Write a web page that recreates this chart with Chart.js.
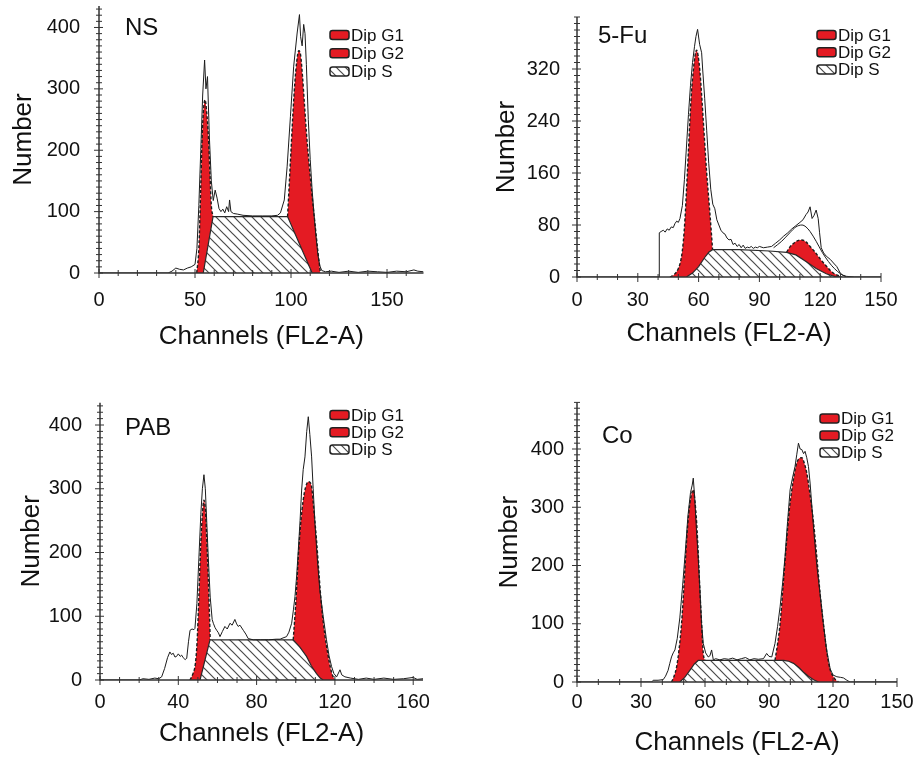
<!DOCTYPE html>
<html>
<head>
<meta charset="utf-8">
<script src="https://cdn.jsdelivr.net/npm/chart.js@4.4.0/dist/chart.umd.min.js"></script>
<style>
  html, body { margin: 0; padding: 0; background: #fff; }
  body { width: 913px; height: 758px; position: relative; overflow: hidden; }
  .panel { position: absolute; }
</style>
</head>
<body>
<div class="panel" style="left:8px;top:0px"><canvas id="ns" width="432" height="352"></canvas></div>
<div class="panel" style="left:491px;top:0px"><canvas id="fu" width="422" height="349"></canvas></div>
<div class="panel" style="left:16px;top:390px"><canvas id="pab" width="424" height="359"></canvas></div>
<div class="panel" style="left:494px;top:390px"><canvas id="co" width="419" height="368"></canvas></div>
<script>
const FONT = "'Liberation Sans', Arial, sans-serif";
const RED = '#e41b23';
const INK = '#1c1c1c';

const legendLabels = ['Dip G1', 'Dip G2', 'Dip S'];
const xTitle = 'Channels (FL2-A)';
const yTitle = 'Number';

// tick labels
const nsXTicks = [0, 50, 100, 150];
const nsYTicks = [0, 100, 200, 300, 400];
const fuXTicks = [0, 30, 60, 90, 120, 150];
const fuYTicks = [0, 80, 160, 240, 320];
const pabXTicks = [0, 40, 80, 120, 160];
const pabYTicks = [0, 100, 200, 300, 400];
const coXTicks = [0, 30, 60, 90, 120, 150];
const coYTicks = [0, 100, 200, 300, 400];

// NS
const nsRaw = [[0,0],[36,0],[38,3],[40,8],[42,6],[44,5],[46,8],[48,10],[50,14],[51,40],[52,110],[53,200],[54,290],[55,347],[55.7,300],[56.5,320],[57.5,220],[58.5,150],[59.5,118],[60.5,135],[61.5,122],[62.5,105],[63.5,100],[64.5,104],[65.5,98],[66.5,108],[67.5,100],[68,119],[68.7,100],[70,97],[72,96],[75,94],[80,93],[85,93],[90,93],[93,94],[94.5,98],[96.5,119],[98,174],[99.7,255],[101.4,337],[103.2,391],[104.4,421],[105,385],[105.8,370],[106.6,405],[107.3,390],[108,340],[109,250],[110,185],[111,135],[112,95],[113,60],[114,30],[115,12],[116,4],[118,2],[121,3],[125,1],[130,3],[135,1],[140,3],[145,2],[150,1],[155,3],[160,2],[164,5],[166,3],[169,2]];
const nsS = [[54.3,0],[59.4,92],[98.2,92],[111,0]];
const nsG1 = [[50.9,0],[52,40],[53,140],[53.5,200],[54.3,260],[55.2,282],[56,265],[57,220],[57.8,160],[58.5,110],[59.4,92]];
const nsG2 = [[98.2,92],[99,140],[100,200],[101,260],[102,310],[103,345],[104,362],[105,355],[106,320],[107,275],[108,230],[109.5,175],[111,125],[112.5,80],[114,35],[115.3,0]];

// 5-Fu
const fuRaw = [[0,0],[40.5,0],[40.6,68],[41.5,70],[42.6,72],[43.5,69],[44.5,74],[45.5,72],[46.5,77],[47.5,76],[48.3,82],[49.2,86],[50,84],[50.8,90],[52,110],[53,150],[54,200],[55,250],[56,295],[57,330],[58,355],[58.7,370],[59.5,381],[60.5,358],[61.5,345],[62,320],[63,275],[64,225],[65,175],[66,135],[67,112],[68,105],[69,88],[70,80],[71,72],[72,68],[73,66],[74,60],[75,57],[76,58],[77,50],[78,52],[79,47],[80,50],[81,45],[82,49],[83,44],[84,46],[85,45],[86,47],[87,44],[88,46],[89,45],[90,47],[92,45],[94,46],[96,47],[98,52],[100,57],[102,63],[104,68],[106,74],[108,79],[110,84],[111.5,88],[113,96],[114,100],[115,108],[116,90],[117,95],[118,103],[119,90],[119.7,68],[120.5,45],[121.7,37],[123,32],[125,27],[127,20],[128.2,16],[129.9,6],[131,3],[133,1],[137,0],[150,0]];
const fuFit = [[97,45],[101,55],[105,68],[108,77],[111,80],[113,77],[115,70],[118,55],[121,38],[124,24],[127,13],[130,5],[133,0]];
const fuS = [[54,0],[57,6],[60,16],[63,30],[65,38],[66.9,42],[80,42],[95,40],[103.4,38],[108,34],[113,24],[118,13],[123,5],[127,1],[130,0]];
const fuG1 = [[45.9,0],[48,4],[50,13],[51.5,30],[52.5,56],[53.3,90],[54.1,138],[55,195],[55.7,241],[56.5,285],[57.4,318],[58.2,340],[59,349],[59.8,340],[60.6,318],[61.5,280],[62.3,241],[63.1,202],[63.9,164],[64.8,128],[65.6,97],[66.3,68],[66.9,42]];
const fuG2 = [[103.4,38],[105,46],[107,52],[109,56],[111,57],[113,54],[115,47],[117,40],[119,32],[121,24],[123,17],[125,10],[127,5],[129,2],[130.5,0]];

// PAB
const pabRaw = [[0,0],[20,0],[22,2],[25,1],[28,3],[30,2],[31.5,5],[33,18],[34.5,35],[35.7,44],[36.5,40],[37.4,42],[38.3,36],[39.1,37],[40,41],[41,37],[41.7,39],[42.5,35],[43.5,32],[44.3,34],[45.2,60],[46,78],[47,80],[48,79],[48.5,81],[49.5,120],[50.5,190],[51.5,260],[52.3,300],[53.1,322],[53.8,300],[54.5,250],[55.3,193],[56.3,130],[57.3,95],[57.9,89],[58.8,82],[59.6,78],[60.5,74],[61.3,68],[62.5,76],[63.8,84],[65,80],[66.4,89],[67.5,86],[68.9,95],[69.8,88],[70.6,84],[71.5,86],[73.2,78],[74.5,72],[75.7,65],[78.3,63],[82,63],[86,63],[90,64],[92,64],[93.5,66],[95.3,68],[96.5,75],[97.9,89],[98.8,110],[99.6,131],[100.5,165],[101.3,204],[102.2,250],[103,298],[103.8,330],[104.7,350],[105.6,390],[106.4,413],[107.2,385],[108.1,350],[108.9,300],[109.8,246],[111,190],[112.3,141],[114,100],[115.7,63],[117,38],[118.3,21],[119.5,10],[120.9,5],[122.6,16],[123.5,8],[125.1,5],[128,3],[132,1],[136,3],[140,1],[145,3],[150,1],[155,2],[160,4],[162,1],[165,2]];
const pabS = [[51.1,0],[56.2,63],[98.7,63],[102,52],[105.5,37],[108,22],[110.6,10],[112.5,3],[114,0]];
const pabG1 = [[46,0],[47.5,10],[48.7,25],[49.6,60],[50.5,130],[51.3,200],[52.2,255],[53.1,282],[53.9,265],[54.6,215],[55.3,160],[55.9,105],[56.3,63]];
const pabG2 = [[98.7,63],[100,120],[101.3,193],[102.5,245],[103.8,282],[105,302],[106.4,311],[107.3,310],[108.1,303],[109.3,265],[110.6,220],[111.9,165],[113.2,115],[114.9,70],[116.6,37],[117.9,17],[119.1,5],[120,0]];

// Co
const coRaw = [[0,0],[35,0],[35.7,3],[38,3],[40.4,4],[41.5,10],[42.7,20],[43.5,32],[44.3,43],[45.1,50],[45.9,55],[47,75],[48.2,110],[49.5,165],[50.8,225],[52,285],[53.2,325],[54,338],[54.5,350],[55.2,315],[56,260],[56.8,215],[57.6,160],[58.4,100],[59.2,66],[60.3,50],[61.5,43],[62.3,45],[63.1,55],[63.9,38],[65,40],[67,38],[69,40],[71,39],[73,41],[75,38],[77,40],[79,42],[81,38],[83,40],[85,39],[87.4,40],[88.9,49],[90,44],[91.3,43],[92.8,66],[94,95],[95.2,129],[96.4,170],[97.5,215],[98.7,275],[99.9,330],[101,350],[102.2,370],[103,390],[103.8,410],[104.6,400],[105.4,399],[106.2,392],[106.9,396],[107.7,385],[108.5,370],[109.3,340],[110.1,301],[111.2,250],[112.4,200],[114,150],[115.5,100],[117,55],[118.7,22],[120,12],[121.8,9],[123.5,8],[124.9,7],[126.5,3],[128,0],[150,0]];
const coS = [[48.2,0],[50.5,8],[52.9,20],[55,31],[56.8,37],[96.8,37],[99,36],[101.5,32],[104,25],[106.2,17],[108.5,10],[110.9,4],[113.2,0]];
const coG1 = [[44.3,0],[45.5,10],[46.7,26],[47.8,55],[49,100],[50.2,170],[51.4,244],[52.4,290],[53.4,318],[54.5,330],[55.3,310],[56.1,273],[56.9,215],[57.6,158],[58.4,100],[59.2,49],[60,37]];
const coG2 = [[92.8,37],[94,65],[95.2,100],[96.7,170],[98.3,244],[99.5,295],[100.7,330],[101.9,358],[103,376],[104.2,384],[105.4,385],[106.6,375],[107.7,359],[109.3,320],[110.9,273],[112.4,215],[114,150],[115.5,100],[117.1,52],[118.6,22],[120.2,9],[121.4,3],[122.6,0]];

const toXY = arr => arr.map(p => ({ x: p[0], y: p[1] }));

function makeHatch() {
  const c = document.createElement('canvas');
  c.width = 9; c.height = 9;
  const g = c.getContext('2d');
  g.fillStyle = '#fff';
  g.fillRect(0, 0, 9, 9);
  g.strokeStyle = '#4a4a4a';
  g.lineWidth = 1.2;
  g.beginPath();
  g.moveTo(-2, -2); g.lineTo(11, 11);
  g.moveTo(-2, 7); g.lineTo(2, 11);
  g.moveTo(7, -2); g.lineTo(11, 2);
  g.stroke();
  return g.createPattern(c, 'repeat');
}
const hatch = makeHatch();

// axes, crossing ticks, panel label and legend
const decor = {
  id: 'decor',
  afterDatasetsDraw(chart, args, o) {
    const { ctx, chartArea: a, scales: { x, y } } = chart;
    ctx.save();
    ctx.strokeStyle = '#333';
    ctx.lineWidth = 1.5;
    ctx.beginPath();
    ctx.moveTo(a.left, a.top);
    ctx.lineTo(a.left, a.bottom);
    ctx.lineTo(a.right, a.bottom);
    ctx.stroke();
    ctx.lineWidth = 1;
    ctx.beginPath();
    for (let i = 0; i * 10 <= x.max; i++) {
      const v = i * 10, p = x.getPixelForValue(v), big = o.xTicks.includes(v);
      ctx.moveTo(p, a.bottom - (big ? 4 : 3));
      ctx.lineTo(p, a.bottom + (big ? 5 : 3));
    }
    for (let i = 0; i * 10 <= y.max; i++) {
      const v = i * 10, p = y.getPixelForValue(v), big = o.yTicks.includes(v);
      ctx.moveTo(a.left - (big ? 5 : 3), p);
      ctx.lineTo(a.left + (big ? 4 : 3), p);
    }
    ctx.stroke();

    ctx.fillStyle = '#111';
    ctx.font = '24px ' + FONT;
    ctx.textBaseline = 'alphabetic';
    ctx.fillText(o.label, a.left + o.labelAt[0], a.top + o.labelAt[1]);

    ctx.font = '17px ' + FONT;
    ctx.textBaseline = 'middle';
    legendLabels.forEach((t, i) => {
      const sx = a.left + o.legendAt[0];
      const sy = a.top + o.legendAt[1] + i * o.legendStep;
      ctx.beginPath();
      ctx.roundRect(sx, sy - 4.5, 19, 9, 2.5);
      ctx.fillStyle = i < 2 ? RED : hatch;
      ctx.fill();
      ctx.strokeStyle = '#222';
      ctx.lineWidth = 1.5;
      ctx.stroke();
      ctx.fillStyle = '#111';
      ctx.fillText(t, sx + 21, sy + 1);
    });
    ctx.restore();
  }
};

function makePanel(id, p) {
  const datasets = [
    { label: 'raw', data: toXY(p.raw), borderColor: INK, borderWidth: 1, fill: false }
  ];
  if (p.fit) {
    datasets.push({ label: 'fit', data: toXY(p.fit), borderColor: INK, borderWidth: 1, fill: false, cubicInterpolationMode: 'monotone' });
  }
  datasets.push({ label: 'Dip S', data: toXY(p.s), borderColor: '#2a2a2a', borderWidth: 1.2, backgroundColor: hatch, fill: 'origin' });
  datasets.push({ label: 'Dip G1', data: toXY(p.g1), borderColor: INK, borderWidth: 1.4, borderDash: [3, 2], backgroundColor: RED, fill: 'origin', cubicInterpolationMode: 'monotone' });
  datasets.push({ label: 'Dip G2', data: toXY(p.g2), borderColor: INK, borderWidth: 1.4, borderDash: [3, 2], backgroundColor: RED, fill: 'origin', cubicInterpolationMode: 'monotone' });

  new Chart(document.getElementById(id), {
    type: 'line',
    data: { datasets },
    plugins: [decor],
    options: {
      responsive: false,
      animation: false,
      events: [],
      layout: { padding: { top: p.padTop, right: p.padRight, left: 0, bottom: 0 } },
      elements: { point: { radius: 0 }, line: { tension: 0 } },
      plugins: {
        legend: { display: false },
        tooltip: { enabled: false },
        decor: { label: p.label, labelAt: p.labelAt, legendAt: p.legendAt, legendStep: p.legendStep, xTicks: p.xTicks, yTicks: p.yTicks }
      },
      scales: {
        x: {
          type: 'linear', min: 0, max: p.xMax,
          grid: { display: false, drawTicks: false },
          border: { display: false },
          ticks: { font: { family: FONT, size: 20 }, color: '#111', padding: p.xPad, maxRotation: 0, autoSkip: false },
          afterBuildTicks: s => { s.ticks = p.xTicks.map(v => ({ value: v })); },
          afterFit: s => { s.height = p.xH; s.paddingLeft = 0; s.paddingRight = 0; },
          title: { display: true, text: xTitle, font: { family: FONT, size: 26 }, color: '#111', padding: 0 }
        },
        y: {
          min: 0, max: p.yMax,
          grid: { display: false, drawTicks: false },
          border: { display: false },
          ticks: { font: { family: FONT, size: 20 }, color: '#111', padding: p.yPad },
          afterBuildTicks: s => { s.ticks = p.yTicks.map(v => ({ value: v })); },
          afterFit: s => { s.width = p.yW; s.paddingTop = 0; s.paddingBottom = 0; },
          title: { display: true, text: yTitle, font: { family: FONT, size: 26 }, color: '#111', padding: 0 }
        }
      }
    }
  });
}

makePanel('ns', { raw: nsRaw, s: nsS, g1: nsG1, g2: nsG2, xTicks: nsXTicks, yTicks: nsYTicks,
  xMax: 169, yMax: 435, yW: 91, xH: 79, padTop: 6, padRight: 16.5, xPad: 15, yPad: 19,
  label: 'NS', labelAt: [26, 29], legendAt: [231, 29], legendStep: 18.3 });
makePanel('fu', { raw: fuRaw, fit: fuFit, s: fuS, g1: fuG1, g2: fuG2, xTicks: fuXTicks, yTicks: fuYTicks,
  xMax: 150, yMax: 400, yW: 86, xH: 72, padTop: 17, padRight: 32, xPad: 11, yPad: 17,
  label: '5-Fu', labelAt: [21, 26], legendAt: [240, 18], legendStep: 17.3 });
makePanel('pab', { raw: pabRaw, s: pabS, g1: pabG1, g2: pabG2, xTicks: pabXTicks, yTicks: pabYTicks,
  xMax: 165, yMax: 435, yW: 84, xH: 69, padTop: 12.7, padRight: 17, xPad: 10, yPad: 18,
  label: 'PAB', labelAt: [25, 32], legendAt: [230, 12.3], legendStep: 17.2 });
makePanel('co', { raw: coRaw, s: coS, g1: coG1, g2: coG2, xTicks: coXTicks, yTicks: coYTicks,
  xMax: 150, yMax: 480, yW: 83, xH: 76, padTop: 12.4, padRight: 16, xPad: 8, yPad: 13,
  label: 'Co', labelAt: [25, 41], legendAt: [243, 16], legendStep: 17 });
</script>
</body>
</html>
